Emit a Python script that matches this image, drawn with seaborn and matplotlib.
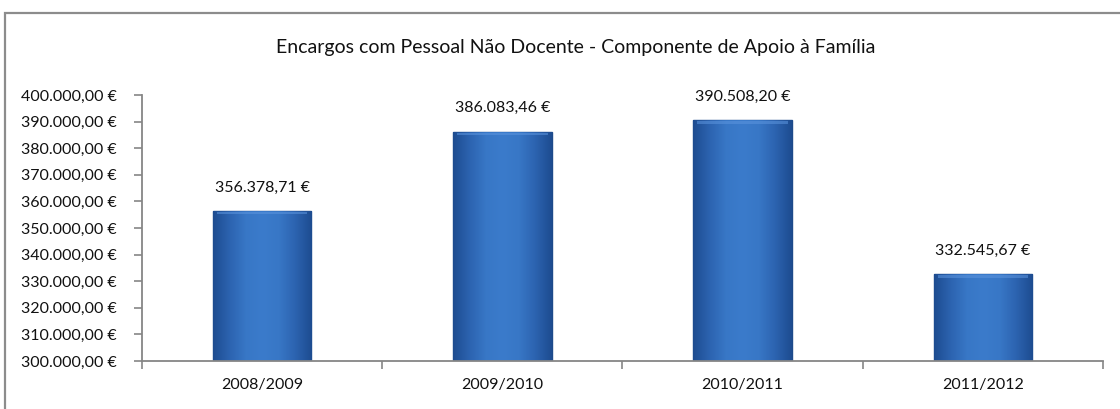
import numpy as np
import pandas as pd
import matplotlib
matplotlib.use("Agg")
import matplotlib.pyplot as plt
from matplotlib.patches import Rectangle
from matplotlib.colors import LinearSegmentedColormap
import seaborn as sns

# --- dados ---
anos = ["2008/2009", "2009/2010", "2010/2011", "2011/2012"]
encargos = [356378.71, 386083.46, 390508.20, 332545.67]
titulo = "Encargos com Pessoal Não Docente - Componente de Apoio à Família"
y_min, y_max, y_passo = 300000, 400000, 10000

df = pd.DataFrame({"Ano": anos, "Encargos": encargos})


def euro(v):
    # formato português: 356.378,71 €
    s = f"{v:,.2f}".replace(",", "X").replace(".", ",").replace("X", ".")
    return s + " €"


sns.set_style("white")
plt.rcParams["font.family"] = ["Lato", "DejaVu Sans"]

fig = plt.figure(figsize=(11.2, 4.09), dpi=100)
ax = fig.add_axes([0.1268, 0.1174, 0.858, 0.6504])

sns.barplot(data=df, x="Ano", y="Encargos", ax=ax, color="#3a75c3",
            width=0.41, edgecolor="#1d4a8a", linewidth=1.0, saturation=1)

# gradiente tipo "bevel" do Excel
cmap = LinearSegmentedColormap.from_list(
    "bev", ["#1d4c90", "#2c63b0", "#3877c6", "#3b7bcb", "#3877c6", "#2c63b0", "#1d4c90"])
grad = np.linspace(0, 1, 256).reshape(1, -1)
for p in ax.patches[:len(anos)]:
    x0, w = p.get_x(), p.get_width()
    topo = p.get_y() + p.get_height()
    ax.imshow(grad, cmap=cmap, aspect="auto", extent=[x0, x0 + w, y_min, topo],
              zorder=p.get_zorder() + 0.1, interpolation="bilinear")
    # faixa clara no topo
    ax.add_patch(Rectangle((x0 + w * 0.04, topo - 1300), w * 0.92, 1100,
                           facecolor="#5c95de", edgecolor="none", alpha=0.55,
                           zorder=p.get_zorder() + 0.2))

ax.set_xlim(-0.5, len(anos) - 0.5)
ax.set_ylim(y_min, y_max)
ax.set_yticks(np.arange(y_min, y_max + 1, y_passo))
ax.set_yticklabels([euro(v) for v in np.arange(y_min, y_max + 1, y_passo)])
ax.set_xlabel("")
ax.set_ylabel("")

for i, v in enumerate(encargos):
    ax.annotate(euro(v), (i, v), xytext=(0, 17), textcoords="offset points",
                ha="center", va="center", fontsize=11.5, color="#111111")

# eixos
for lado in ["top", "right"]:
    ax.spines[lado].set_visible(False)
for lado in ["left", "bottom"]:
    ax.spines[lado].set_color("#868686")
    ax.spines[lado].set_linewidth(1.3)
    ax.spines[lado].set_zorder(5)

ax.tick_params(axis="y", which="major", left=True, length=6, width=1.2,
               color="#868686", labelsize=11.5, labelcolor="#111111", pad=12)
ax.tick_params(axis="x", which="major", bottom=False, labelsize=11.5,
               labelcolor="#111111", pad=9)
ax.set_xticks(np.arange(-0.5, len(anos)), minor=True)
ax.tick_params(axis="x", which="minor", bottom=True, length=6, width=1.2,
               color="#868686", direction="out")

fig.text(576 / 1120, 1 - 47 / 409, titulo, ha="center", va="center",
         fontsize=14, color="#111111")

# moldura do gráfico
fig.patches.append(Rectangle((5 / 1120, -0.1), 1.2, 1 - 13 / 409 + 0.1,
                             transform=fig.transFigure, fill=False,
                             edgecolor="#8c8c8c", linewidth=1.6))

fig.savefig("out.png", dpi=100, facecolor="white")
